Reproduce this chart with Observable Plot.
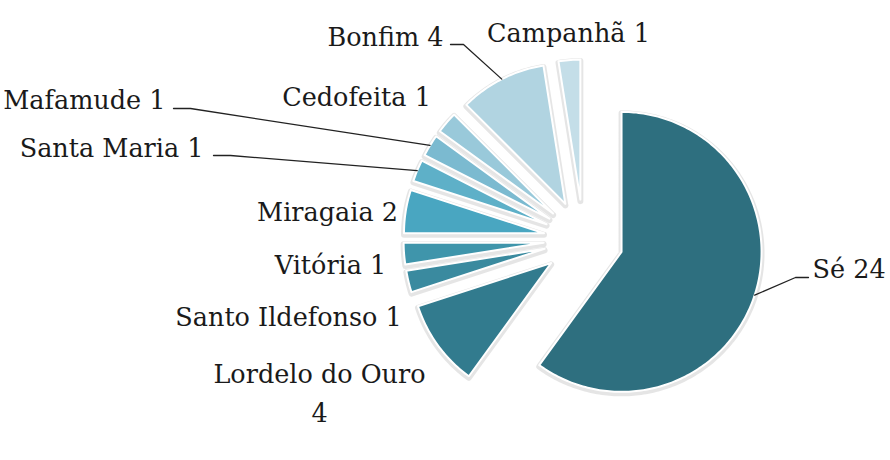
<!DOCTYPE html>
<html>
<head>
<meta charset="utf-8">
<script src="https://cdn.jsdelivr.net/npm/d3@7"></script>
<script src="https://cdn.jsdelivr.net/npm/@observablehq/plot@0.6"></script>
<style>
  html, body { margin: 0; padding: 0; background: #fff; }
  #chart { width: 890px; height: 460px; }
</style>
</head>
<body>
<div id="chart"></div>
<script>
// ---- data ----
const names  = ["Sé", "Lordelo do Ouro", "Santo Ildefonso", "Vitória", "Miragaia",
                "Santa Maria", "Mafamude", "Cedofeita", "Bonfim", "Campanhã"];
const counts = [24, 4, 1, 1, 2, 1, 1, 1, 4, 1];
const colors = ["#2e6f7f", "#327b8e", "#3a8a9f", "#3f95ab", "#49a6c1",
                "#5eb0c8", "#7bbad0", "#99c9da", "#b1d4e1", "#c4dee8"];
// label text wrapping (Excel wrapped "Lordelo do Ouro 4")
const wrapped = [false, true, false, false, false, false, false, false, false, false];

// ---- layout (pixels) ----
const W = 890, H = 460;
const cx = 583, cy = 239, R = 140, explode = 40;
// label anchor positions (baseline of last line), text-anchor, leader elbows
const labelX      = [812, 319, 288, 330, 327, 203, 165, 356, 443, 568];
const labelY      = [277, 421, 325, 273, 220, 156, 108, 105, 45, 41];
const labelAnchor = ["start", "middle", "middle", "middle", "middle", "end", "end", "middle", "end", "middle"];
const leaderStart = [[808, 277], null, null, null, null, [213, 155], [173, 108], null, [450, 44], null];
const leaderElbow = [[795, 277], null, null, null, null, [230, 155], [190, 108], null, [463, 44], null];

const data = names.map((name, i) => ({name, value: counts[i], i}));
const arcs = d3.pie().sort(null).value(d => d.value)(data);

// slice polygons (one array of vertices per slice)
const slices = [];
const geom = {};
for (const a of arcs) {
  const mid = (a.startAngle + a.endAngle) / 2;
  const ox = cx + explode * Math.sin(mid), oy = cy - explode * Math.cos(mid);
  geom[a.data.name] = {ox, oy, mid};
  const pts = [{x: ox, y: oy}];
  const n = Math.max(4, Math.ceil((a.endAngle - a.startAngle) / (Math.PI / 180)));
  for (let k = 0; k <= n; k++) {
    const t = a.startAngle + (a.endAngle - a.startAngle) * k / n;
    pts.push({x: ox + R * Math.sin(t), y: oy - R * Math.cos(t)});
  }
  pts.push({x: ox, y: oy});
  slices.push({name: a.data.name, color: colors[a.data.i], pts});
}

// leader lines: from slice outer mid-point -> elbow -> label end
const leaders = [];
names.forEach((name, i) => {
  if (!leaderStart[i]) return;
  const g = geom[name];
  const outer = [g.ox + R * Math.sin(g.mid), g.oy - R * Math.cos(g.mid)];
  [outer, leaderElbow[i], leaderStart[i]].forEach(([x, y]) => leaders.push({name, x, y}));
});

const labels = names.map((name, i) => ({
  text: wrapped[i] ? `${name}\n${counts[i]}` : `${name} ${counts[i]}`,
  x: labelX[i], y: labelY[i], anchor: labelAnchor[i]
}));

const textMark = anchor => Plot.text(labels.filter(d => d.anchor === anchor), {
  x: "x", y: "y", text: "text", textAnchor: anchor, lineAnchor: "bottom",
  lineHeight: 1.5, fontSize: 25.5, fontFamily: "DejaVu Serif", fill: "#1a1a1a"
});

const sliceMarks = [];
for (const s of slices) {
  // soft shadow
  sliceMarks.push(Plot.line(s.pts, {x: "x", y: "y", fill: "none",
    stroke: "#000", strokeOpacity: 0.10, strokeWidth: 6, strokeLinejoin: "round",
    dy: 1.5, curve: "linear"}));
}
for (const s of slices) {
  sliceMarks.push(Plot.line(s.pts, {x: "x", y: "y", fill: s.color,
    stroke: "#fff", strokeWidth: 2, strokeLinejoin: "round", curve: "linear"}));
}

const plot = Plot.plot({
  width: W, height: H,
  marginTop: 0, marginRight: 0, marginBottom: 0, marginLeft: 0,
  x: {domain: [0, W], axis: null},
  y: {domain: [0, H], reverse: true, axis: null},
  style: {background: "#fff"},
  marks: [
    ...sliceMarks,
    Plot.line(leaders, {x: "x", y: "y", z: "name", stroke: "#222", strokeWidth: 1.3, curve: "linear"}),
    textMark("start"),
    textMark("middle"),
    textMark("end")
  ]
});
document.getElementById("chart").appendChild(plot);
</script>
</body>
</html>
